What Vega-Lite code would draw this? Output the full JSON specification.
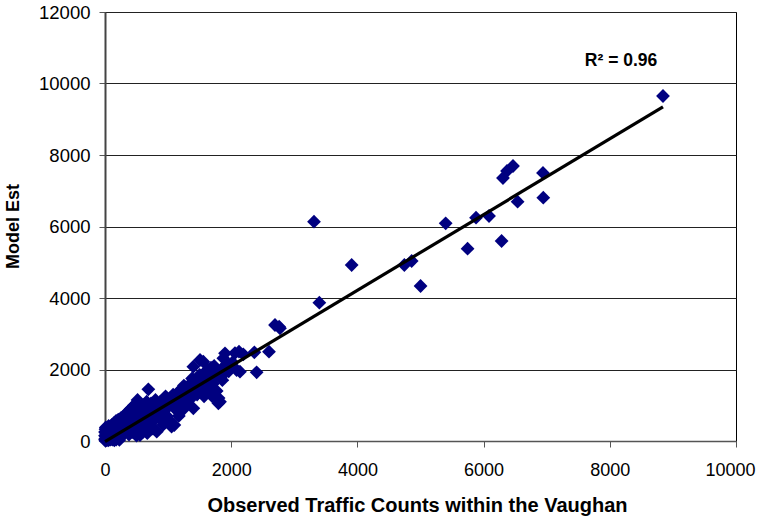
{
  "$schema": "https://vega.github.io/schema/vega-lite/v6.json",
  "width": 631,
  "height": 429,
  "autosize": {"type": "none"},
  "padding": {"left": 105, "top": 12, "right": 23, "bottom": 75},
  "background": "white",
  "config": {
    "view": {"stroke": "#000000", "strokeWidth": 1},
    "font": "Liberation Sans"
  },
  "datasets": {
    "pts": [
      {"x":5,"y":10},{"x":10,"y":60},{"x":15,"y":120},{"x":20,"y":200},{"x":25,"y":30},{"x":30,"y":280},{"x":35,"y":90},{"x":40,"y":160},{"x":45,"y":350},{"x":50,"y":20},
      {"x":55,"y":230},{"x":60,"y":110},{"x":65,"y":300},{"x":70,"y":180},{"x":75,"y":50},{"x":80,"y":400},{"x":85,"y":250},{"x":90,"y":140},{"x":95,"y":330},{"x":100,"y":70},
      {"x":105,"y":210},{"x":110,"y":450},{"x":115,"y":300},{"x":120,"y":160},{"x":125,"y":380},{"x":130,"y":100},{"x":135,"y":260},{"x":140,"y":500},{"x":145,"y":190},{"x":150,"y":340},
      {"x":155,"y":60},{"x":160,"y":420},{"x":165,"y":280},{"x":170,"y":150},{"x":175,"y":560},{"x":180,"y":230},{"x":185,"y":370},{"x":190,"y":120},{"x":195,"y":480},{"x":200,"y":300},
      {"x":205,"y":200},{"x":210,"y":600},{"x":215,"y":420},{"x":220,"y":90},{"x":225,"y":350},{"x":230,"y":520},{"x":235,"y":250},{"x":240,"y":180},{"x":245,"y":450},{"x":250,"y":640},
      {"x":255,"y":310},{"x":260,"y":140},{"x":265,"y":400},{"x":270,"y":550},{"x":275,"y":230},{"x":280,"y":480},{"x":285,"y":350},{"x":290,"y":680},{"x":295,"y":200},{"x":300,"y":420},
      {"x":0,"y":150},{"x":0,"y":250},{"x":0,"y":50},{"x":8,"y":330},{"x":12,"y":380},{"x":18,"y":20},{"x":28,"y":170},{"x":42,"y":260},{"x":58,"y":420},{"x":62,"y":30},
      {"x":88,"y":40},{"x":118,"y":40},{"x":148,"y":20},{"x":178,"y":40},{"x":198,"y":80},{"x":228,"y":30},
      {"x":310,"y":600},{"x":320,"y":250},{"x":330,"y":750},{"x":340,"y":450},{"x":350,"y":320},{"x":360,"y":820},{"x":370,"y":550},{"x":380,"y":180},{"x":390,"y":680},{"x":400,"y":400},
      {"x":410,"y":900},{"x":420,"y":600},{"x":430,"y":250},{"x":440,"y":760},{"x":450,"y":500},{"x":460,"y":1000},{"x":470,"y":350},{"x":480,"y":650},{"x":490,"y":850},{"x":500,"y":150},
      {"x":516,"y":1147},{"x":520,"y":550},{"x":530,"y":780},{"x":540,"y":300},{"x":550,"y":950},{"x":555,"y":168},{"x":570,"y":700},{"x":580,"y":480},{"x":590,"y":880},{"x":600,"y":250},
      {"x":610,"y":1000},{"x":620,"y":620},{"x":630,"y":380},{"x":640,"y":820},{"x":650,"y":560},{"x":660,"y":1100},{"x":670,"y":220},{"x":687,"y":1445},{"x":700,"y":750},{"x":710,"y":950},
      {"x":720,"y":450},{"x":730,"y":1050},{"x":740,"y":650},{"x":750,"y":880},{"x":760,"y":350},{"x":770,"y":1000},{"x":780,"y":780},{"x":790,"y":600},{"x":800,"y":1150},
      {"x":820,"y":260},{"x":840,"y":900},{"x":860,"y":650},{"x":880,"y":1100},{"x":900,"y":800},{"x":920,"y":450},{"x":940,"y":1000},{"x":960,"y":1250},{"x":980,"y":700},{"x":1000,"y":950},
      {"x":1020,"y":1150},{"x":1040,"y":550},{"x":1055,"y":400},{"x":1080,"y":1300},{"x":1099,"y":448},{"x":1110,"y":900},{"x":1130,"y":1200},{"x":1150,"y":1050},{"x":1170,"y":700},{"x":1190,"y":1400},
      {"x":1210,"y":1100},{"x":1230,"y":1250},{"x":1250,"y":900},{"x":1270,"y":1500},{"x":1290,"y":1300},{"x":1310,"y":1050},{"x":1330,"y":1450},{"x":1350,"y":1600},{"x":1370,"y":1200},{"x":1400,"y":914},
      {"x":1400,"y":2079},{"x":1420,"y":1400},{"x":1440,"y":1700},{"x":1460,"y":1300},{"x":1480,"y":1550},{"x":1506,"y":2266},{"x":1500,"y":1850},{"x":1520,"y":1400},{"x":1540,"y":1650},{"x":1558,"y":2218},
      {"x":1570,"y":1250},{"x":1590,"y":1800},{"x":1610,"y":1500},{"x":1630,"y":2000},{"x":1650,"y":1700},{"x":1670,"y":1350},{"x":1690,"y":1900},{"x":1700,"y":1250},{"x":1710,"y":1600},{"x":1730,"y":2100},
      {"x":1750,"y":1800},{"x":1770,"y":1400},{"x":1797,"y":1054},{"x":1800,"y":1200},{"x":1822,"y":1100},{"x":1840,"y":2000},{"x":1860,"y":1700},{"x":1875,"y":2313},{"x":1900,"y":1900},{"x":1902,"y":2452},
      {"x":1930,"y":2150},{"x":1960,"y":1950},{"x":1990,"y":2050},{"x":2020,"y":2200},{"x":2060,"y":2460},{"x":2086,"y":1986},{"x":2124,"y":2498},{"x":2139,"y":1938},{"x":2192,"y":2424},{"x":1380,"y":1750},
      {"x":1250,"y":1550},{"x":1150,"y":1350},{"x":1050,"y":1200},{"x":950,"y":1150},{"x":1600,"y":1950},{"x":1680,"y":2050},
      {"x":2367,"y":2481},{"x":2403,"y":1921},{"x":2599,"y":2498},{"x":2694,"y":3245},{"x":2773,"y":3152},{"x":2760,"y":3197},
      {"x":3312,"y":6134},{"x":3397,"y":3869},{"x":3909,"y":4923},{"x":4744,"y":4923},{"x":4860,"y":5035},{"x":5001,"y":4336},{"x":5399,"y":6089},{"x":5746,"y":5379},{"x":5880,"y":6246},{"x":6086,"y":6294},
      {"x":6285,"y":5594},{"x":6307,"y":7357},{"x":6371,"y":7552},{"x":6466,"y":7692},{"x":6539,"y":6694},{"x":6941,"y":7497},{"x":6946,"y":6806},{"x":8843,"y":9650}
    ],
    "fit": [{"x":0,"y":-20},{"x":8843,"y":9343}],
    "lbl": [{"x":8178,"y":10630,"t":"R² = 0.96"}]
  },
  "layer": [
    {
      "data": {"name": "pts"},
      "mark": {"type": "point", "shape": "diamond", "filled": true, "size": 190, "color": "#000080", "opacity": 1},
      "encoding": {
        "x": {"field": "x", "type": "quantitative",
          "scale": {"domain": [0, 10000], "nice": false, "zero": false},
          "axis": {"values": [0,2000,4000,6000,8000,10000], "format": "d", "grid": false, "title": "Observed Traffic Counts within the Vaughan",
            "titleFont": "Liberation Sans", "titleFontSize": 20, "titleFontWeight": "bold", "titleColor": "#000",
            "titleX": 312, "titleY": 64, "titleBaseline": "middle", "titleAlign": "center",
            "labelFont": "Liberation Sans", "labelFontSize": 18, "labelColor": "#000", "labelPadding": 14,
            "labelOffset": {"condition": {"test": "datum.value == 10000", "value": -6}, "value": 0},
            "tickSize": 6, "tickColor": "#555", "domainColor": "#555", "domainWidth": 1.5, "labelFlush": false, "labelOverlap": false}},
        "y": {"field": "y", "type": "quantitative",
          "scale": {"domain": [0, 12000], "nice": false, "zero": false},
          "axis": {"values": [0,2000,4000,6000,8000,10000,12000], "format": "d", "grid": true, "gridColor": "#222", "gridWidth": 1, "title": "Model Est",
            "titleFont": "Liberation Sans", "titleFontSize": 18, "titleFontWeight": "bold", "titleColor": "#000",
            "titleX": -92, "titleY": 214, "titleAngle": -90, "titleBaseline": "middle", "titleAlign": "center",
            "labelFont": "Liberation Sans", "labelFontSize": 18.5, "labelColor": "#000", "labelPadding": 9,
            "tickSize": 6, "tickColor": "#555", "domainColor": "#444", "domainWidth": 2, "labelFlush": false, "labelOverlap": false}}
      }
    },
    {
      "data": {"name": "fit"},
      "mark": {"type": "line", "color": "#000", "strokeWidth": 3.2},
      "encoding": {
        "x": {"field": "x", "type": "quantitative"},
        "y": {"field": "y", "type": "quantitative"}
      }
    },
    {
      "data": {"name": "lbl"},
      "mark": {"type": "text", "font": "Liberation Sans", "fontSize": 17.5, "fontWeight": "bold", "color": "#000", "align": "center", "baseline": "middle"},
      "encoding": {
        "x": {"field": "x", "type": "quantitative"},
        "y": {"field": "y", "type": "quantitative"},
        "text": {"field": "t"}
      }
    }
  ]
}
